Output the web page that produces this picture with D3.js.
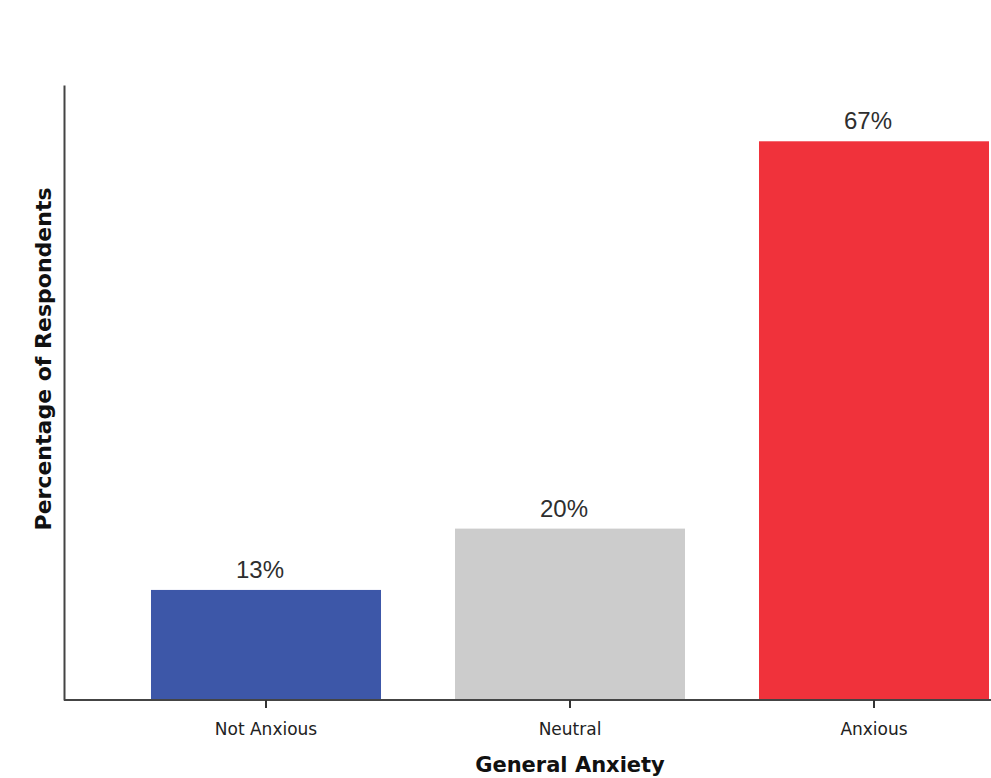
<!DOCTYPE html>
<html>
<head>
<meta charset="utf-8">
<script src="https://cdn.jsdelivr.net/npm/d3@7"></script>
<style>
	body { margin: 0; background: #fff; }
	svg text { fill: #222; }
</style>
</head>
<body>
<div id="chart"></div>
<script>
const categories	= ["Not Anxious", "Neutral", "Anxious"];
const percents		= [13.1, 20.4, 66.5];
const valueLabels	= ["13%", "20%", "67%"];
const barColors		= ["#3d57a8", "#cccccc", "#f0323b"];

const canvasWidth	= 991;
const canvasHeight	= 778;
const axisLeftX		= 64;
const baseY			= 700;
const topY			= 85;

let data = categories.map((c, i) => ({ cat: c, value: percents[i], label: valueLabels[i], color: barColors[i] }));

let x = d3.scaleBand()
	.domain(categories)
	.range([114, 1026])
	.paddingInner(0.2434)
	.paddingOuter(0.1217);

let y = d3.scaleLinear().domain([0, 73.2]).range([baseY, topY]);

let svg = d3.select("#chart").append("svg")
	.attr("width", canvasWidth)
	.attr("height", canvasHeight);

// bars
svg.append("g")
	.selectAll("rect")
	.data(data).enter()
	.append("rect")
		.attr("x", (d) => x(d.cat))
		.attr("y", (d) => y(d.value))
		.attr("width", x.bandwidth())
		.attr("height", (d) => y(0) - y(d.value))
		.attr("fill", (d) => d.color);

// value labels (sit slightly left of bar centre, as in the source)
svg.append("g")
	.selectAll("text")
	.data(data).enter()
	.append("text")
		.attr("x", (d) => x(d.cat) + x.bandwidth() / 2 - 6)
		.attr("y", (d) => y(d.value) - 12)
		.attr("text-anchor", "middle")
		.style("font-family", "'Liberation Sans', Arial, sans-serif")
		.style("font-size", "24px")
		.style("fill", "#2e2e2e")
		.text((d) => d.label);

// x axis baseline
svg.append("line")
	.attr("x1", axisLeftX).attr("x2", canvasWidth)
	.attr("y1", baseY).attr("y2", baseY)
	.attr("stroke", "#444").attr("stroke-width", 2);

let xAxis = svg.append("g")
	.attr("transform", "translate(0," + baseY + ")")
	.call(d3.axisBottom(x).tickSize(8).tickPadding(15).tickSizeOuter(0));
xAxis.select(".domain").remove();
xAxis.selectAll(".tick line").attr("stroke", "#333").attr("stroke-width", 2);
xAxis.selectAll(".tick text")
	.style("font-family", "'DejaVu Sans', Verdana, sans-serif")
	.style("font-size", "17px")
	.style("fill", "#222");

// y axis line
let yAxis = svg.append("g")
	.attr("transform", "translate(" + axisLeftX + ",0)")
	.call(d3.axisLeft(y).tickValues([]).tickSizeOuter(0));
yAxis.select(".domain").attr("stroke", "#444").attr("stroke-width", 2);

// axis titles
svg.append("text")
	.attr("x", 570)
	.attr("y", 772)
	.attr("text-anchor", "middle")
	.style("font-family", "'DejaVu Sans', Verdana, sans-serif")
	.style("font-weight", "bold")
	.style("font-size", "21px")
	.style("fill", "#111")
	.text("General Anxiety");

svg.append("text")
	.attr("transform", "translate(51,359) rotate(-90)")
	.attr("text-anchor", "middle")
	.style("font-family", "'DejaVu Sans', Verdana, sans-serif")
	.style("font-weight", "bold")
	.style("font-size", "22px")
	.style("fill", "#111")
	.text("Percentage of Respondents");
</script>
</body>
</html>
